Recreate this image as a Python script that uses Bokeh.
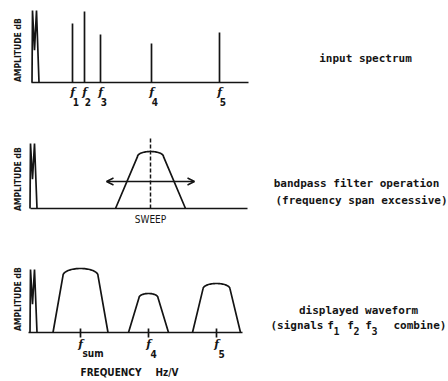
import numpy as np
from bokeh.plotting import figure
from bokeh.layouts import column
from bokeh.models import Range1d, Label, Arrow, OpenHead
from bokeh.core.properties import value
from bokeh.embed import file_html
from bokeh.resources import INLINE

# ---------------- data ----------------
# input spectrum: discrete tones (frequency, amplitude in arbitrary units)
tone_names = ["1", "2", "3", "4", "5"]
tone_freq = [40, 52, 68, 119, 187]
tone_level = [59, 71, 48, 39, 50]

# LO feedthrough height at zero frequency, one per panel
lo_level = [72, 65, 63]
lo_center = [0, -2, -2]

# bandpass filter swept across the span
filter_center = 118
filter_level = 57
filter_base_halfwidth = 35
filter_top_halfwidth = 13
sweep_span = [74, 162]
sweep_level = 27
marker_level = 70

# displayed response (f1, f2, f3 merge into one hump)
resp_names = ["sum", "4", "5"]
resp_center = [48, 116, 184]
resp_level = [64, 39, 49]
resp_base_halfwidth = [27.5, 20, 24]
resp_top_halfwidth = [17.5, 9.5, 13.5]

# frequency axis extent per panel
baseline_start = [-1, -2, -4]
baseline_end = [216, 215, 210]

INK = "#141414"
LW = 1.7
MONO = "DejaVu Sans Mono"
COND = "DejaVu Sans Condensed"


def rounded_hump(c, h, wb, wt, shoulder=0.9, n=41):
    """Straight skirts up to the shoulders, then an elliptical cap up to the peak."""
    hs = shoulder * h
    theta = np.linspace(np.pi, 0, n)
    cap_x = c + wt * np.cos(theta)
    cap_y = hs + (h - hs) * np.sin(theta)
    xs = np.concatenate([[c - wb], cap_x, [c + wb]])
    ys = np.concatenate([[0], cap_y, [0]])
    return xs, ys


def panel(height, y0, y1):
    p = figure(width=448, height=height,
               x_range=Range1d(-32, 416), y_range=Range1d(y0, y1),
               output_backend="svg", toolbar_location=None,
               x_axis_location=None, y_axis_location=None, min_border=0)
    p.xgrid.visible = False
    p.ygrid.visible = False
    p.outline_line_color = None
    p.background_fill_color = "white"
    p.border_fill_color = "white"
    return p


def lo_spike(p, i):
    c, h = lo_center[i], lo_level[i]
    xs = [c - 0.5, c, c + 2, c + 4, c + 6.5]
    ys = [0, h, 0.45 * h, h, 0]
    p.line(xs, ys, line_color=INK, line_width=LW)


def baseline(p, i):
    p.line([baseline_start[i], baseline_end[i]], [0, 0], line_color=INK, line_width=LW)


def amp_label(p, y_mid):
    p.add_layout(Label(x=-15, y=y_mid, text="AMPLITUDE   dB", angle=np.pi / 2,
                       text_align="center", text_baseline="middle",
                       text_font=COND, text_font_style="bold",
                       text_font_size="8.5px", text_color=INK))


def side_text(p, x, y, txt):
    p.add_layout(Label(x=x, y=y, text=txt, text_align="center", text_baseline="middle",
                       text_font=MONO, text_font_style="bold", text_font_size="11px",
                       text_color=INK))


def f_labels(p, xs, y, subs, sub_dx, sub_dy, sub_align):
    p.text(x=xs, y=[y] * len(xs), text=["f"] * len(xs), text_align="center",
           text_baseline="middle", text_font=value("DejaVu Serif"),
           text_font_style="bold italic", text_font_size="11px", text_color=INK)
    p.text(x=[v + sub_dx for v in xs], y=[y + sub_dy] * len(xs), text=subs,
           text_align=sub_align, text_baseline="middle", text_font=value(COND),
           text_font_style="bold", text_font_size="10px", text_color=INK)


# ---------------- panel 1: input spectrum ----------------
p1 = panel(128, -46, 82)
baseline(p1, 0)
lo_spike(p1, 0)
p1.segment(x0=tone_freq, y0=[0] * 5, x1=tone_freq, y1=tone_level,
           line_color=INK, line_width=LW)
f_labels(p1, tone_freq, -10, tone_names, 3.5, -9, "center")
amp_label(p1, 35)
side_text(p1, 333, 24, "input spectrum")

# ---------------- panel 2: bandpass filter sweep ----------------
p2 = panel(112, -32, 80)
baseline(p2, 1)
lo_spike(p2, 1)
fx, fy = rounded_hump(filter_center, filter_level,
                      filter_base_halfwidth, filter_top_halfwidth, shoulder=0.91)
p2.line(fx, fy, line_color=INK, line_width=LW)
p2.line([filter_center, filter_center], [0, marker_level], line_color=INK,
        line_width=1.5, line_dash="4 2")
p2.add_layout(Arrow(x_start=sweep_span[0], y_start=sweep_level,
                    x_end=sweep_span[1], y_end=sweep_level,
                    line_color=INK, line_width=1.5,
                    start=OpenHead(size=7, line_color=INK, line_width=1.5),
                    end=OpenHead(size=7, line_color=INK, line_width=1.5)))
p2.text(x=[filter_center], y=[-11], text=["SWEEP"], text_align="center",
        text_baseline="middle", text_font=value(COND), text_font_size="10px",
        text_color=INK)
amp_label(p2, 32)
side_text(p2, 324, 25, "bandpass filter operation")
side_text(p2, 329, 8, "(frequency span excessive)")

# ---------------- panel 3: displayed waveform ----------------
p3 = panel(141, -49, 92)
baseline(p3, 2)
lo_spike(p3, 2)
for c, h, wb, wt in zip(resp_center, resp_level, resp_base_halfwidth, resp_top_halfwidth):
    hx, hy = rounded_hump(c, h, wb, wt, shoulder=0.89)
    p3.line(hx, hy, line_color=INK, line_width=LW)
p3.segment(x0=resp_center, y0=[-5] * 3, x1=resp_center, y1=[4] * 3,
           line_color=INK, line_width=LW)
f_labels(p3, resp_center, -12, resp_names, 2, -9, "left")
p3.text(x=[48, 123], y=[-40, -40], text=["FREQUENCY", "Hz/V"], text_align="left",
        text_baseline="middle", text_font=value(COND), text_font_style="bold",
        text_font_size="10px", text_color=INK)
amp_label(p3, 36)
side_text(p3, 326, 22, "displayed waveform")

# "(signals f1 f2 f3 combine)" with true subscripts
sig_y = 7
p3.add_layout(Label(x=238, y=sig_y, text="(signals", text_align="left", text_baseline="middle",
                    text_font=MONO, text_font_style="bold", text_font_size="11px", text_color=INK))
for fx_, sub in zip([298, 318, 336], ["1", "2", "3"]):
    p3.add_layout(Label(x=fx_, y=sig_y, text="f", text_align="center", text_baseline="middle",
                        text_font=MONO, text_font_style="bold", text_font_size="11px",
                        text_color=INK))
    p3.add_layout(Label(x=fx_ + 6, y=sig_y - 5, text=sub, text_align="center",
                        text_baseline="middle", text_font=MONO, text_font_style="bold",
                        text_font_size="10px", text_color=INK))
p3.add_layout(Label(x=361, y=sig_y, text="combine)", text_align="left", text_baseline="middle",
                    text_font=MONO, text_font_style="bold", text_font_size="11px", text_color=INK))

layout = column(p1, p2, p3, spacing=0)
open("out.html", "w").write(file_html(layout, INLINE))
